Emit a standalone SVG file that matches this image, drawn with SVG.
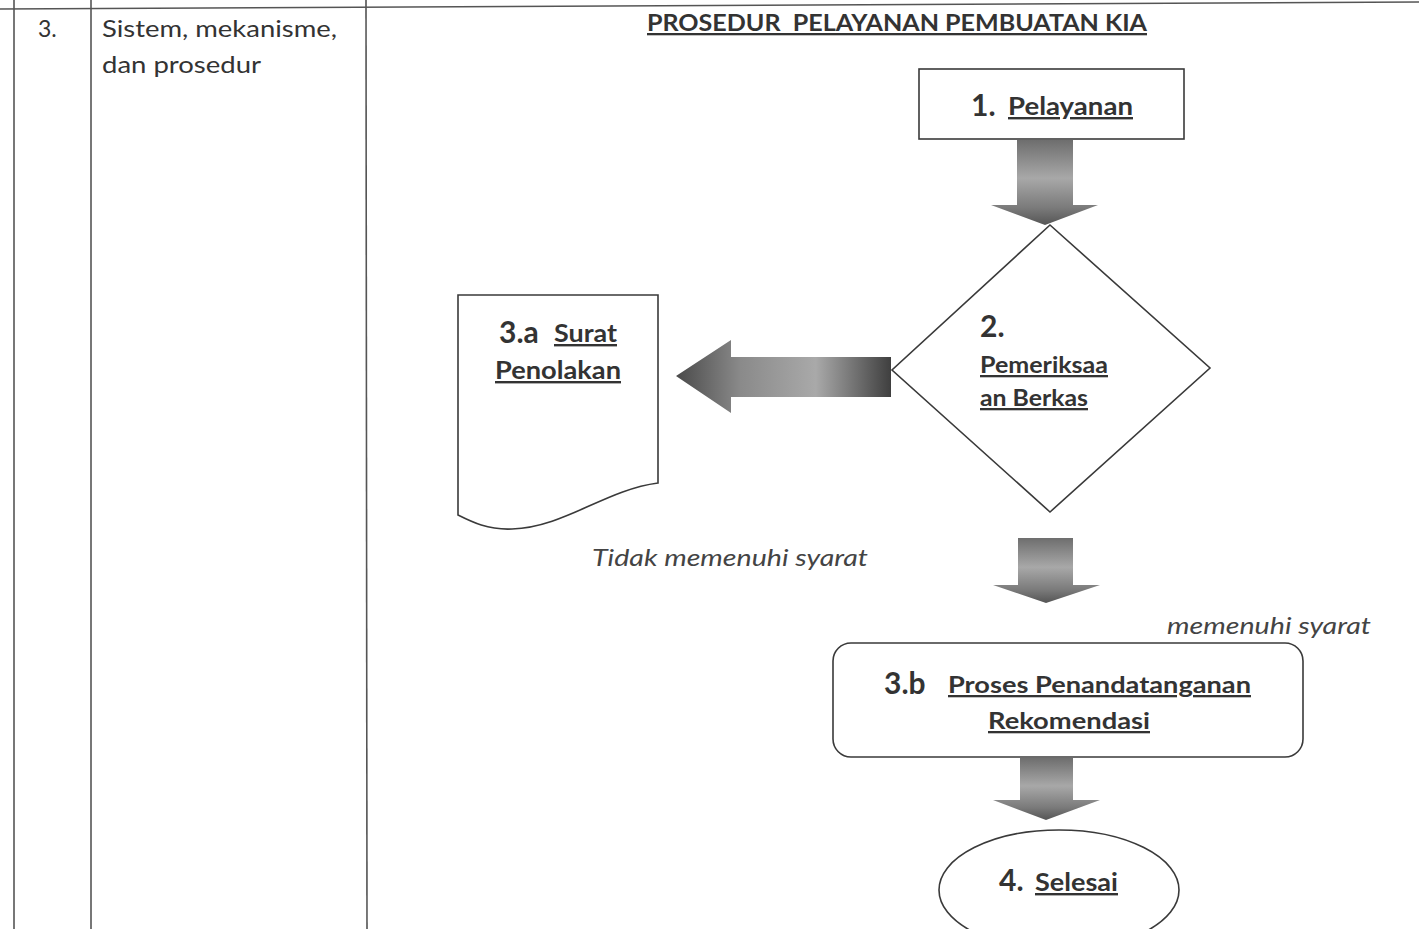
<svg xmlns="http://www.w3.org/2000/svg" width="1419" height="929" viewBox="0 0 1419 929">
<style>
  .t { font-family: Lato, "Open Sans", "Liberation Sans", sans-serif; fill: #333; }
  .b { font-weight: bold; }
  .u { text-decoration: underline; }
  .i { font-style: italic; fill: #444; }
  .shape { fill: #fff; stroke: #3a3a3a; stroke-width: 1.6; }
  .grid { stroke: #555; stroke-width: 1.6; fill: none; }
</style>
<defs>
  <linearGradient id="gDown" x1="0" y1="0" x2="0" y2="1">
    <stop offset="0" stop-color="#6e6e6e"/>
    <stop offset="0.45" stop-color="#a8a8a8"/>
    <stop offset="0.8" stop-color="#7a7a7a"/>
    <stop offset="1" stop-color="#555"/>
  </linearGradient>
  <linearGradient id="gLeft" x1="1" y1="0" x2="0" y2="0">
    <stop offset="0" stop-color="#3f3f3f"/>
    <stop offset="0.35" stop-color="#a9a9a9"/>
    <stop offset="0.7" stop-color="#8a8a8a"/>
    <stop offset="1" stop-color="#4a4a4a"/>
  </linearGradient>
</defs>
<rect width="1419" height="929" fill="#fff"/>

<g id="table">
  <line class="grid" x1="0" y1="9" x2="1419" y2="2"/>
  <line class="grid" x1="14" y1="0" x2="14" y2="929"/>
  <line class="grid" x1="91" y1="0" x2="91" y2="929"/>
  <line class="grid" x1="366" y1="0" x2="367" y2="929"/>
  <text class="t" x="38" y="37" font-size="23">3.</text>
  <text class="t" x="102" y="37" font-size="24" textLength="235" lengthAdjust="spacingAndGlyphs">Sistem, mekanisme,</text>
  <text class="t" x="102" y="73" font-size="24" textLength="159" lengthAdjust="spacingAndGlyphs">dan prosedur</text>
</g>

<g id="title">
  <text class="t b u" x="647" y="31" font-size="23" style="white-space:pre" textLength="500" lengthAdjust="spacingAndGlyphs">PROSEDUR  PELAYANAN PEMBUATAN KIA</text>
</g>

<g id="connectors">
  <path d="M1017,140 H1073 V205 H1098 L1045,225 L991,205 H1017 Z" fill="url(#gDown)"/>
  <path d="M891,357 V397 H731 V413 L676,376 L731,340 V357 Z" fill="url(#gLeft)"/>
  <path d="M1018,538 H1073 V585 H1100 L1046,603 L993,585 H1018 Z" fill="url(#gDown)"/>
  <path d="M1020,758 H1073 V800 H1100 L1046,820 L993,800 H1020 Z" fill="url(#gDown)"/>
  <text class="t i" x="592" y="566" font-size="24" textLength="276" lengthAdjust="spacingAndGlyphs">Tidak memenuhi syarat</text>
  <text class="t i" x="1167" y="634" font-size="24" textLength="204" lengthAdjust="spacingAndGlyphs">memenuhi syarat</text>
</g>

<g id="node1">
  <rect class="shape" x="919" y="69" width="265" height="70"/>
  <text class="t b" x="971" y="116" font-size="30">1.</text>
  <text class="t b u" x="1008" y="115" font-size="24" textLength="125" lengthAdjust="spacingAndGlyphs">Pelayanan</text>
</g>

<g id="node2">
  <path class="shape" d="M1050,225 L1210,368 L1050,512 L892,370 Z"/>
  <text class="t b" x="980" y="337" font-size="30">2.</text>
  <text class="t b u" x="980" y="373" font-size="23" textLength="128" lengthAdjust="spacingAndGlyphs">Pemeriksaa</text>
  <text class="t b u" x="980" y="406" font-size="23" textLength="108" lengthAdjust="spacingAndGlyphs">an Berkas</text>
</g>

<g id="node3a">
  <path class="shape" d="M458,295 H658 V483 C605,490 565,527 512,529 C488,530 472,522 458,515 Z"/>
  <text class="t b" x="499" y="343" font-size="30">3.a</text>
  <text class="t b u" x="554" y="342" font-size="24" textLength="63" lengthAdjust="spacingAndGlyphs">Surat</text>
  <text class="t b u" x="495" y="379" font-size="24" textLength="126" lengthAdjust="spacingAndGlyphs">Penolakan</text>
</g>

<g id="node3b">
  <rect class="shape" x="833" y="643" width="470" height="114" rx="18"/>
  <text class="t b" x="884" y="694" font-size="30">3.b</text>
  <text class="t b u" x="948" y="693" font-size="23" textLength="303" lengthAdjust="spacingAndGlyphs">Proses Penandatanganan</text>
  <text class="t b u" x="988" y="729" font-size="23" textLength="162" lengthAdjust="spacingAndGlyphs">Rekomendasi</text>
</g>

<g id="node4">
  <ellipse class="shape" cx="1059" cy="890" rx="120" ry="60"/>
  <text class="t b" x="999" y="891" font-size="30">4.</text>
  <text class="t b u" x="1035" y="891" font-size="24" textLength="83" lengthAdjust="spacingAndGlyphs">Selesai</text>
</g>
</svg>
